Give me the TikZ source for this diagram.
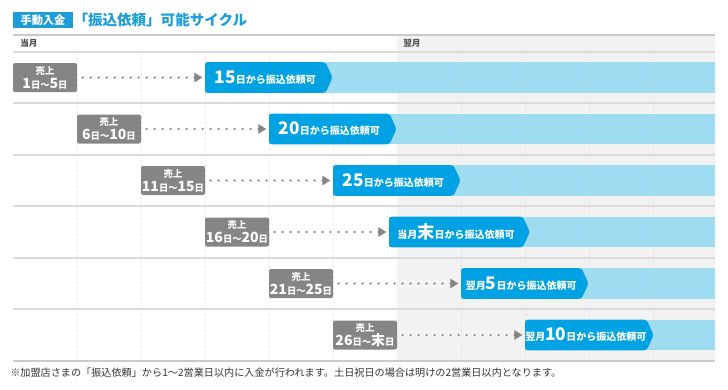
\documentclass[tikz,border=0pt]{standalone}
\usepackage{fontspec}
\setmainfont{Noto Sans CJK JP}
\usepackage{tikz}
\usetikzlibrary{arrows.meta,positioning}
\usepackage{xcolor}
\definecolor{payblue}{HTML}{00A2E3}
\definecolor{barblue}{HTML}{9EDCF1}
\definecolor{salegray}{HTML}{858585}
\definecolor{nextgray}{HTML}{F2F2F2}
\definecolor{rulegray}{HTML}{DADADA}
\definecolor{edgegray}{HTML}{CACACA}
\definecolor{titleblue}{HTML}{1C9DD9}
\definecolor{headgray}{HTML}{505050}
\definecolor{notegray}{HTML}{333333}
\pgfdeclarelayer{bg}
\pgfsetlayers{bg,main}
\newcommand\numbig{\fontsize{13}{14}\selectfont}
\newcommand\numsale{\fontsize{10.5}{11}\selectfont}

\begin{document}
\begin{tikzpicture}[x=0.75pt,y=-0.75pt,line cap=round,
  sale/.style={fill=salegray,rounded corners=1.5pt,text=white,minimum width=48pt,minimum height=21.75pt,inner sep=0pt,align=center,font=\bfseries\fontsize{7}{10.5}\selectfont},
  pay/.style={anchor=west,minimum width=90pt,minimum height=22.5pt,inner sep=0pt,text=white,font=\bfseries\fontsize{7.5}{9}\selectfont},
  wait/.style={salegray,line width=1.8pt,dash pattern=on 0pt off 6pt,-{Triangle[length=6pt,width=7pt]}},
  rowline/.style={rulegray,line width=1pt},
  edgeline/.style={edgegray,line width=1.3pt},
  colline/.style={rulegray,line width=0.6pt,dash pattern=on 2pt off 2pt,opacity=0.6}]
\useasboundingbox (0,0) rectangle (728,389);
\coordinate (edge) at (715,0);

% title
\node[fill=titleblue,text=white,font=\bfseries\fontsize{8.4}{9}\selectfont,minimum width=45pt,minimum height=12pt,inner sep=0pt] (kind) at (43,20) {手動入金};
\node[right=0pt of kind,inner sep=0pt,text=titleblue,font=\bfseries\fontsize{10.9}{12}\selectfont] (title) {「振込依頼」可能サイクル};

% months
\node[anchor=west,inner sep=0pt,text=headgray,font=\bfseries\fontsize{6.5}{7}\selectfont] (thismonth) at (20,43.5) {当月};
\node[anchor=west,inner sep=0pt,text=headgray,font=\bfseries\fontsize{6.5}{7}\selectfont] (nextmonth) at (403,43.5) {翌月};

% sales and transfer dates
\node[sale] (sale1) at (45,77.5) {売上\\{\numsale 1}日～{\numsale 5}日};
\node[pay] (pay1) at (205,77.5) {{\numbig 15}日から振込依頼可};
\node[sale] (sale2) at (109,129) {売上\\{\numsale 6}日～{\numsale 10}日};
\node[pay] (pay2) at (269,129) {{\numbig 20}日から振込依頼可};
\node[sale] (sale3) at (173,180.5) {売上\\{\numsale 11}日～{\numsale 15}日};
\node[pay] (pay3) at (333,180.5) {{\numbig 25}日から振込依頼可};
\node[sale] (sale4) at (237,232) {売上\\{\numsale 16}日～{\numsale 20}日};
\node[pay,minimum width=100pt] (pay4) at (389,232) {当月{\numbig 末}日から振込依頼可};
\node[sale] (sale5) at (301,283.5) {売上\\{\numsale 21}日～{\numsale 25}日};
\node[pay] (pay5) at (461,283.5) {翌月{\numbig 5}日から振込依頼可};
\node[sale] (sale6) at (365,335) {売上\\{\numsale 26}日～{\numsale 末}日};
\node[pay] (pay6) at (525,335) {翌月{\numbig 10}日から振込依頼可};

\draw[wait] ([xshift=4pt]sale1.east) -- ([xshift=-2pt]pay1.west);
\draw[wait] ([xshift=4pt]sale2.east) -- ([xshift=-2pt]pay2.west);
\draw[wait] ([xshift=4pt]sale3.east) -- ([xshift=-2pt]pay3.west);
\draw[wait] ([xshift=4pt]sale4.east) -- ([xshift=-2pt]pay4.west);
\draw[wait] ([xshift=4pt]sale5.east) -- ([xshift=-2pt]pay5.west);
\draw[wait] ([xshift=4pt]sale6.east) -- ([xshift=-2pt]pay6.west);

\node[anchor=west,inner sep=0pt,text=notegray,font=\fontsize{7.6}{9}\selectfont] (note) at (10,372.5) {※加盟店さまの「振込依頼」から1〜2営業日以内に入金が行われます。土日祝日の場合は明けの2営業日以内となります。};

\begin{pgfonlayer}{bg}
\fill[nextgray] (397,35) rectangle (715,361);
\foreach \n in {1,...,6}
  \fill[barblue] (pay\n.north west) rectangle (pay\n.south -| edge);
\foreach \x in {77,141,205,269,333,461,525,589,653}
  \draw[colline] (\x,52) -- (\x,361);
\foreach \n in {1,...,6}
  \fill[payblue,rounded corners=2pt] (pay\n.north west) -- (pay\n.north east) -- ([xshift=5.25pt]pay\n.east) -- (pay\n.south east) -- (pay\n.south west) -- cycle;
\foreach \y in {52,103,155,206,258,309}
  \draw[rowline] (13,\y) -- (715,\y);
\draw[edgeline] (13,35) -- (715,35);
\draw[edgeline] (13,361) -- (715,361);
\end{pgfonlayer}
\end{tikzpicture}
\end{document}
